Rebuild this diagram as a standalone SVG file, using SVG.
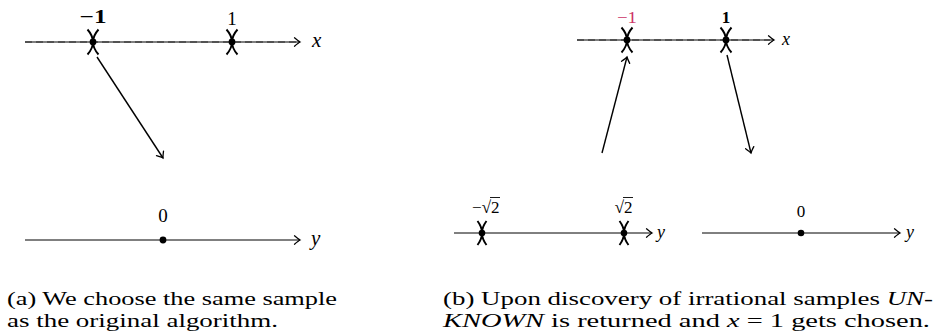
<svg xmlns="http://www.w3.org/2000/svg" width="936" height="334" viewBox="0 0 936 334">
<style>
.ax{stroke:#000;stroke-width:1;fill:none}
.dash{stroke:#444;stroke-width:1.6;stroke-dasharray:7 4;fill:none}
.conn{stroke:#000;stroke-width:1.4;fill:none}
.mk{stroke:#000;stroke-width:1.9;fill:none}
.lbl{font-family:"Liberation Serif","DejaVu Serif",serif;font-size:19px;fill:#000;text-anchor:middle}
.lbs{font-family:"Liberation Serif","DejaVu Serif",serif;font-size:17px;fill:#000}
.var{font-family:"Liberation Serif","DejaVu Serif",serif;font-size:21px;font-style:italic;fill:#000}
.vrs{font-family:"Liberation Serif","DejaVu Serif",serif;font-size:18px;font-style:italic;fill:#000}
.cap{font-family:"Liberation Serif","DejaVu Serif",serif;font-size:18px;fill:#000}
.it{font-style:italic}
</style>
<defs>
<marker id="ah" markerUnits="userSpaceOnUse" markerWidth="12" markerHeight="12" refX="0" refY="0" viewBox="-8 -6 10 12" orient="auto" overflow="visible">
<path d="M-5.5,-4.2 Q-1.5,-0.8 0,0 Q-1.5,0.8 -5.5,4.2" stroke="#000" stroke-width="1.3" fill="none" stroke-linecap="round"/>
</marker>
<g id="cross"><path class="mk" d="M-5.5,-12.5 Q5.5,0 -5.5,12.5 M5.5,-12.5 Q-5.5,0 5.5,12.5"/><circle r="3.4" fill="#000"/></g>
<g id="crossS"><path class="mk" d="M-4.5,-12 Q4.5,0 -4.5,12 M4.5,-12 Q-4.5,0 4.5,12"/><circle r="3.3" fill="#000"/></g>
</defs>

<g id="connectors">
<line class="conn" x1="97" y1="57" x2="163" y2="158" marker-end="url(#ah)"/>
<line class="conn" x1="602" y1="153" x2="627" y2="57" marker-end="url(#ah)"/>
<line class="conn" x1="727" y1="55" x2="751" y2="153" marker-end="url(#ah)"/>
</g>

<g id="a-x-axis">
<line class="ax" x1="25" y1="42" x2="300" y2="42" marker-end="url(#ah)"/>
<line class="dash" x1="25" y1="42" x2="296" y2="42"/>
<use href="#cross" x="93" y="42"/>
<use href="#cross" x="232" y="42"/>
<text class="lbl" x="93" y="23" font-weight="bold" textLength="27" lengthAdjust="spacingAndGlyphs">−1</text>
<text class="lbl" x="232" y="25">1</text>
<text class="var" x="312" y="47">x</text>
</g>

<g id="a-y-axis">
<line class="ax" x1="25" y1="240" x2="300" y2="240" marker-end="url(#ah)"/>
<circle cx="163" cy="240" r="3.4" fill="#000"/>
<text class="lbl" x="163" y="222">0</text>
<text class="var" x="311" y="245">y</text>
</g>

<g id="b-x-axis">
<line class="ax" x1="577" y1="40" x2="774" y2="40" marker-end="url(#ah)"/>
<line class="dash" x1="577" y1="40" x2="770" y2="40"/>
<use href="#cross" x="627" y="40"/>
<use href="#cross" x="726" y="40"/>
<text class="lbs" x="627" y="23" text-anchor="middle" textLength="20" lengthAdjust="spacingAndGlyphs" style="fill:#CC3366">−1</text>
<text class="lbs" x="726" y="23" text-anchor="middle" font-weight="bold">1</text>
<text class="vrs" x="782" y="45">x</text>
</g>

<g id="b-y-axis-left">
<line class="ax" x1="454" y1="233" x2="652" y2="233" marker-end="url(#ah)"/>
<use href="#crossS" x="482" y="233"/>
<use href="#crossS" x="624" y="233"/>
<text class="lbs" x="491" y="213" text-anchor="end">−√</text>
<text class="lbs" x="491" y="213">2</text>
<line x1="490" y1="197.5" x2="500" y2="197.5" stroke="#000" stroke-width="0.9"/>
<text class="lbs" x="624" y="213" text-anchor="end">√</text>
<text class="lbs" x="624" y="213">2</text>
<line x1="623" y1="197.5" x2="633" y2="197.5" stroke="#000" stroke-width="0.9"/>
<text class="vrs" x="657" y="238">y</text>
</g>

<g id="b-y-axis-right">
<line class="ax" x1="702" y1="233" x2="900" y2="233" marker-end="url(#ah)"/>
<circle cx="801" cy="233" r="3.3" fill="#000"/>
<text class="lbs" x="801" y="217" text-anchor="middle">0</text>
<text class="vrs" x="906" y="238">y</text>
</g>

<g id="caption-a">
<text class="cap" x="7" y="305" textLength="330" lengthAdjust="spacingAndGlyphs">(a) We choose the same sample</text>
<text class="cap" x="7" y="327" textLength="271" lengthAdjust="spacingAndGlyphs">as the original algorithm.</text>
</g>

<g id="caption-b">
<text class="cap" x="443" y="305" textLength="490" lengthAdjust="spacingAndGlyphs">(b) Upon discovery of irrational samples <tspan class="it">UN</tspan>-</text>
<text class="cap" x="443" y="327" textLength="487" lengthAdjust="spacingAndGlyphs"><tspan class="it">KNOWN</tspan> is returned and <tspan class="it">x</tspan> = 1 gets chosen.</text>
</g>
</svg>
